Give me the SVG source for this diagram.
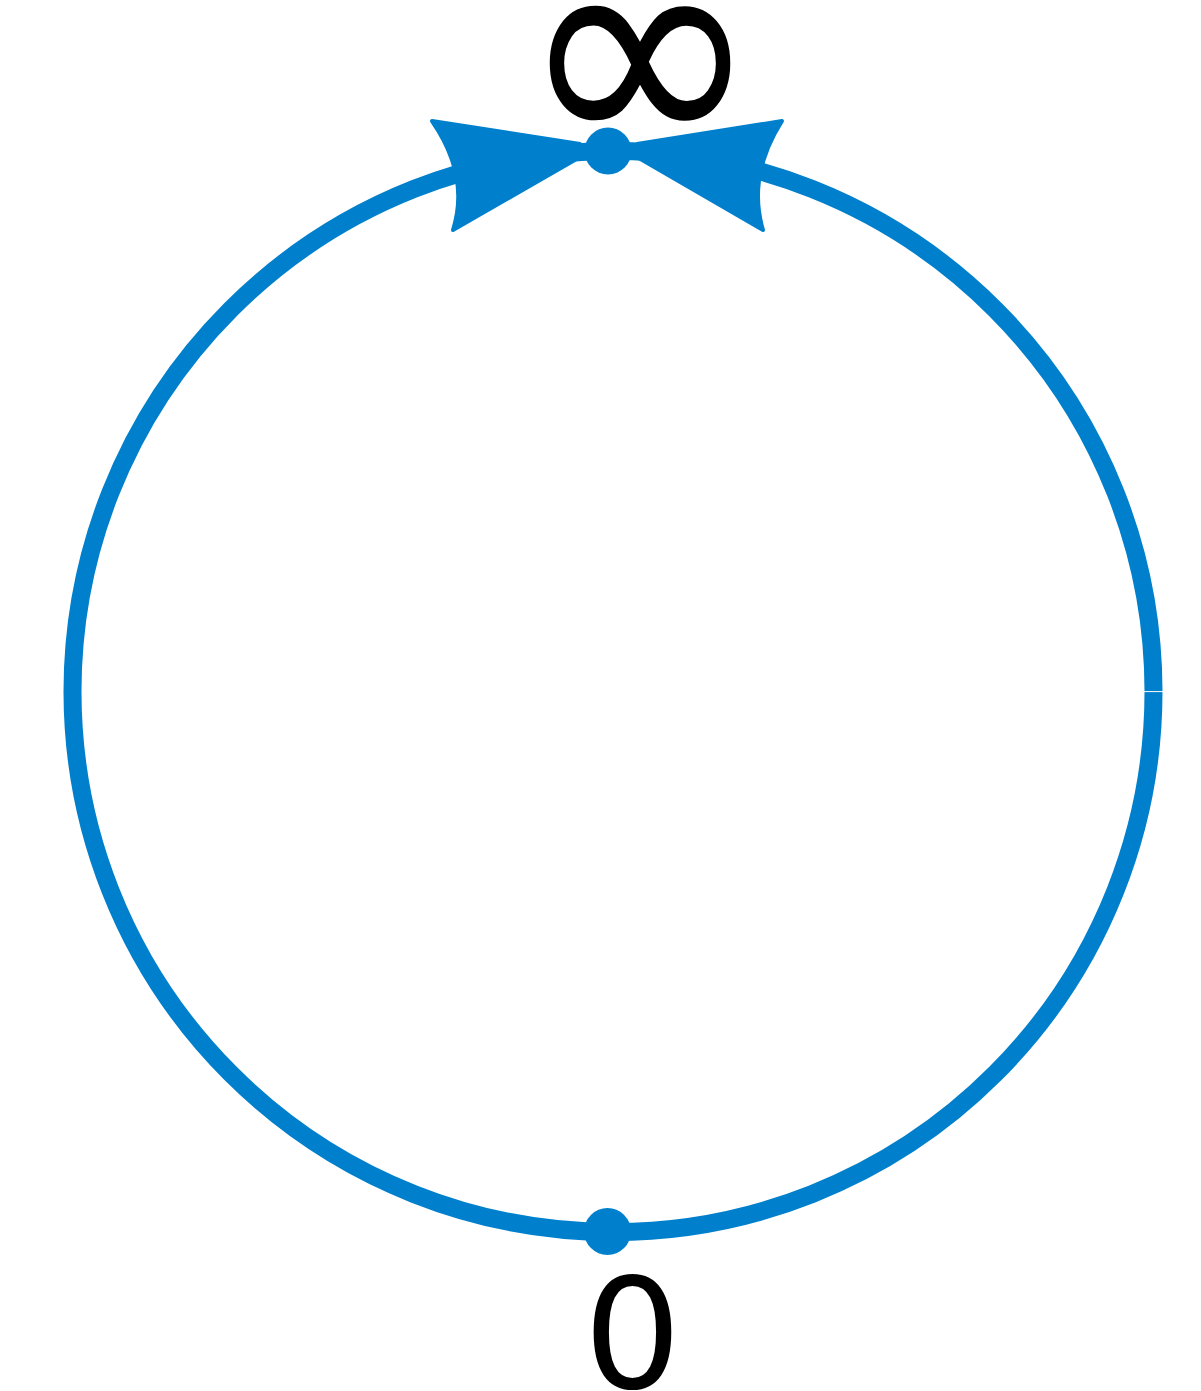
<svg xmlns="http://www.w3.org/2000/svg" width="1201" height="1391" viewBox="0 0 1201 1391">
  <style>
    .edge { fill: none; stroke: #0080cc; stroke-width: 18; }
    .head { fill: #0080cc; stroke: #0080cc; stroke-width: 4; stroke-linejoin: round; }
    .dot { fill: #0080cc; }
    .lbl { font-family: "DejaVu Sans", "Liberation Sans", sans-serif; fill: #000; text-anchor: middle; }
  </style>
  <rect width="1201" height="1391" fill="#fff"/>
  <g id="connectors">
    <path class="edge" d="M 613,151 A 540.5,540.5 0 0 0 613,1232 A 540.5,540.5 0 0 0 1153.5,691.5 A 540.5,540.5 0 0 0 613,151"/>
    <line x1="1140" y1="691.6" x2="1168" y2="691.6" stroke="#fff" stroke-width="1"/>
    <path class="head" d="M 432,121 Q 470,176 453,230 L 580,157 L 580,144 Z"/>
    <path class="head" d="M 782,121 Q 747,176 763,230 L 637,157 L 637,144 Z"/>
  </g>
  <g id="node-infinity">
    <circle class="dot" cx="608" cy="151" r="23.5"/>
    <text class="lbl" transform="translate(640,155) scale(1,1.05)" x="0" y="0" font-size="292">∞</text>
  </g>
  <g id="node-zero">
    <circle class="dot" cx="607.5" cy="1231.5" r="23.5"/>
    <text class="lbl" x="632.5" y="1388" font-size="154">0</text>
  </g>
</svg>
